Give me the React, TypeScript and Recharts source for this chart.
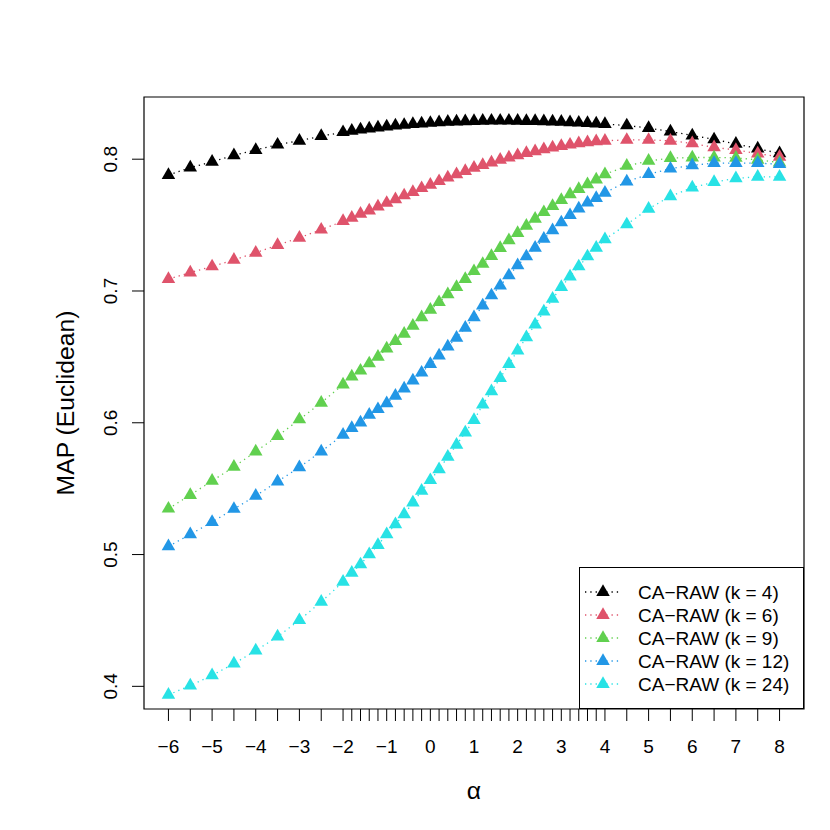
import React from 'react';
import { LineChart, Line, XAxis, YAxis, ReferenceArea } from 'recharts';

// alpha grid (coarse at the ends, 0.2 steps in the middle)
const alphas = [
  -6, -5.5, -5, -4.5, -4, -3.5, -3, -2.5,
  -2, -1.8, -1.6, -1.4, -1.2, -1, -0.8, -0.6, -0.4, -0.2,
  0, 0.2, 0.4, 0.6, 0.8, 1, 1.2, 1.4, 1.6, 1.8,
  2, 2.2, 2.4, 2.6, 2.8, 3, 3.2, 3.4, 3.6, 3.8, 4,
  4.5, 5, 5.5, 6, 6.5, 7, 7.5, 8,
];

const mapK4 = [
  0.788, 0.7936, 0.798, 0.803, 0.807, 0.811, 0.814, 0.8175,
  0.8205, 0.8215, 0.8225, 0.8233, 0.824, 0.8248, 0.8255, 0.826, 0.8266, 0.827,
  0.8275, 0.828, 0.8283, 0.8286, 0.8288, 0.829, 0.8291, 0.8292, 0.8292, 0.8292,
  0.8291, 0.829, 0.8289, 0.8287, 0.8285, 0.8283, 0.828, 0.8277, 0.8274, 0.827, 0.8266,
  0.8256, 0.8236, 0.821, 0.818, 0.815, 0.8116, 0.808, 0.8044,
];

const mapK6 = [
  0.709, 0.714, 0.7186, 0.7236, 0.729, 0.7348, 0.7404, 0.7465,
  0.753, 0.7555, 0.7585, 0.761, 0.764, 0.7668, 0.7695, 0.7725, 0.775, 0.778,
  0.7806, 0.7833, 0.786, 0.7885, 0.791, 0.7935, 0.7955, 0.7975, 0.7995, 0.8012,
  0.803, 0.8046, 0.806, 0.8075, 0.8088, 0.81, 0.811, 0.812, 0.8128, 0.8135, 0.814,
  0.8146, 0.8146, 0.814, 0.812, 0.809, 0.807, 0.8043, 0.8018,
];

const mapK9 = [
  0.5348, 0.5452, 0.5559, 0.5665, 0.5782, 0.5898, 0.6025, 0.6152,
  0.629, 0.635, 0.6395, 0.645, 0.65, 0.6563, 0.662, 0.6675, 0.6736, 0.68,
  0.6857, 0.6915, 0.6974, 0.703, 0.709, 0.715, 0.7205, 0.7265, 0.7325, 0.7385,
  0.744, 0.7495, 0.7548, 0.7598, 0.7645, 0.769, 0.7733, 0.7773, 0.781, 0.7845, 0.7885,
  0.7949, 0.7987, 0.8008, 0.8013, 0.8013, 0.801, 0.7995, 0.7975,
];

const mapK12 = [
  0.5062, 0.5153, 0.5247, 0.5346, 0.5445, 0.5554, 0.5662, 0.5782,
  0.5909, 0.5959, 0.6002, 0.6061, 0.6103, 0.6147, 0.6205, 0.626, 0.632, 0.638,
  0.6446, 0.651, 0.6578, 0.6645, 0.672, 0.68, 0.689, 0.6966, 0.704, 0.7118,
  0.7194, 0.7262, 0.7328, 0.7396, 0.746, 0.752, 0.7575, 0.7625, 0.767, 0.7705, 0.7745,
  0.783, 0.7886, 0.7928, 0.7954, 0.797, 0.797, 0.797, 0.7962,
];

const mapK24 = [
  0.3936, 0.4005, 0.4084, 0.4172, 0.4271, 0.4377, 0.4502, 0.4641,
  0.4793, 0.4862, 0.4925, 0.5001, 0.5072, 0.5153, 0.5229, 0.5305, 0.5394, 0.5483,
  0.5564, 0.5647, 0.5741, 0.5833, 0.5926, 0.602, 0.6137, 0.6238, 0.6339, 0.6446,
  0.6548, 0.6649, 0.6745, 0.6844, 0.694, 0.7029, 0.711, 0.7186, 0.7262, 0.7328, 0.7392,
  0.7505, 0.7624, 0.7719, 0.7784, 0.7826, 0.7855, 0.7866, 0.7866,
];

const yTicks = [0.4, 0.5, 0.6, 0.7, 0.8];

const series = [
  { key: 'k4', label: 'CA\u2212RAW (k = 4)', color: '#000000', values: mapK4 },
  { key: 'k6', label: 'CA\u2212RAW (k = 6)', color: '#DF536B', values: mapK6 },
  { key: 'k9', label: 'CA\u2212RAW (k = 9)', color: '#61D04F', values: mapK9 },
  { key: 'k12', label: 'CA\u2212RAW (k = 12)', color: '#2297E6', values: mapK12 },
  { key: 'k24', label: 'CA\u2212RAW (k = 24)', color: '#28E2E5', values: mapK24 },
];

const chartData = alphas.map((a, i) => {
  const row: Record<string, number> = { alpha: a };
  series.forEach(s => { row[s.key] = s.values[i]; });
  return row;
});

// R-style 4% padding around the axis ranges
const xDomain = [-6.56, 8.56];
const yDomain = [0.3828, 0.8472];

const FONT = '"Liberation Sans", Arial, Helvetica, sans-serif';
const TRI_R = 7.8;

const triPoints = (cx: number, cy: number, r: number) => {
  const hw = r * Math.sqrt(3) / 2;
  return `${cx},${cy - r} ${cx + hw},${cy + r / 2} ${cx - hw},${cy + r / 2}`;
};

const Triangle: React.FC<any> = ({ cx, cy, stroke }) => {
  if (cx == null || cy == null) return null;
  return <polygon points={triPoints(cx, cy, TRI_R)} fill={stroke} stroke="none" />;
};

const fmtMinus = (v: number) => (v < 0 ? `\u2212${Math.abs(v)}` : `${v}`);

const XTick: React.FC<any> = ({ x, y, payload }) => {
  const v = payload.value;
  if (!Number.isInteger(v)) return null;
  return (
    <text x={x} y={y + 30} textAnchor="middle" fontSize={19} fontFamily={FONT} fill="#000">
      {fmtMinus(v)}
    </text>
  );
};

const YTick: React.FC<any> = ({ x, y, payload }) => {
  const bx = x - 13;
  return (
    <text x={bx} y={y} transform={`rotate(-90, ${bx}, ${y})`} textAnchor="middle" fontSize={19} fontFamily={FONT} fill="#000">
      {payload.value.toFixed(1)}
    </text>
  );
};

const YTitle: React.FC<any> = ({ viewBox }) => {
  const cx = viewBox.x + 74;
  const cy = viewBox.y + viewBox.height / 2;
  return (
    <text x={cx} y={cy} transform={`rotate(-90, ${cx}, ${cy})`} textAnchor="middle" fontSize={24.7} fontFamily={FONT} fill="#000">
      MAP (Euclidean)
    </text>
  );
};

const XTitle: React.FC<any> = ({ viewBox }) => {
  const cx = viewBox.x + viewBox.width / 2;
  return (
    <text x={cx} y={viewBox.y + 90} textAnchor="middle" fontSize={24.7} fontFamily={FONT} fill="#000">
      α
    </text>
  );
};

const LegendBox = () => (
  <div
    style={{
      position: 'absolute', left: 579, top: 567, width: 225, height: 142,
      boxSizing: 'border-box', border: '1.2px solid #000', background: '#fff',
      fontFamily: FONT, fontSize: 19,
    }}
  >
    <svg width={223} height={140} style={{ position: 'absolute', left: 0, top: 0 }}>
      {series.map((s, i) => {
        const cy = 24 + i * 23;
        return (
          <g key={s.key}>
            <line x1={5} x2={41} y1={cy} y2={cy} stroke={s.color} strokeWidth={1.3} strokeDasharray="1.3 4" />
            <polygon points={triPoints(23, cy, TRI_R)} fill={s.color} />
            <text x={58} y={cy + 7} fontSize={19} fontFamily={FONT} fill="#000">{s.label}</text>
          </g>
        );
      })}
    </svg>
  </div>
);

const App: React.FC = () => {
  return (
    <div style={{ position: 'absolute', left: 0, top: 0, width: 830, height: 830, background: '#fff' }}>
      <LineChart width={830} height={830} data={chartData} margin={{ top: 97, right: 26, bottom: 0, left: 0 }}>
        <XAxis
          dataKey="alpha"
          type="number"
          domain={xDomain}
          allowDataOverflow
          ticks={alphas}
          interval={0}
          height={121}
          tickSize={12}
          axisLine={false}
          tickLine={{ stroke: '#000', strokeWidth: 1 }}
          tick={<XTick />}
          label={<XTitle />}
        />
        <YAxis
          type="number"
          domain={yDomain}
          allowDataOverflow
          ticks={yTicks}
          interval={0}
          width={144}
          tickSize={12}
          axisLine={false}
          tickLine={{ stroke: '#000', strokeWidth: 1 }}
          tick={<YTick />}
          label={<YTitle />}
        />
        <ReferenceArea
          x1={xDomain[0]} x2={xDomain[1]} y1={yDomain[0]} y2={yDomain[1]}
          fill="none" stroke="#000" strokeWidth={1.2} fillOpacity={0} ifOverflow="visible"
        />
        {series.map(s => (
          <Line
            key={s.key}
            type="linear"
            dataKey={s.key}
            stroke={s.color}
            strokeWidth={1.3}
            strokeDasharray="1.3 4"
            dot={<Triangle />}
            activeDot={false}
            isAnimationActive={false}
          />
        ))}
      </LineChart>
      <LegendBox />
    </div>
  );
};

export default App;
